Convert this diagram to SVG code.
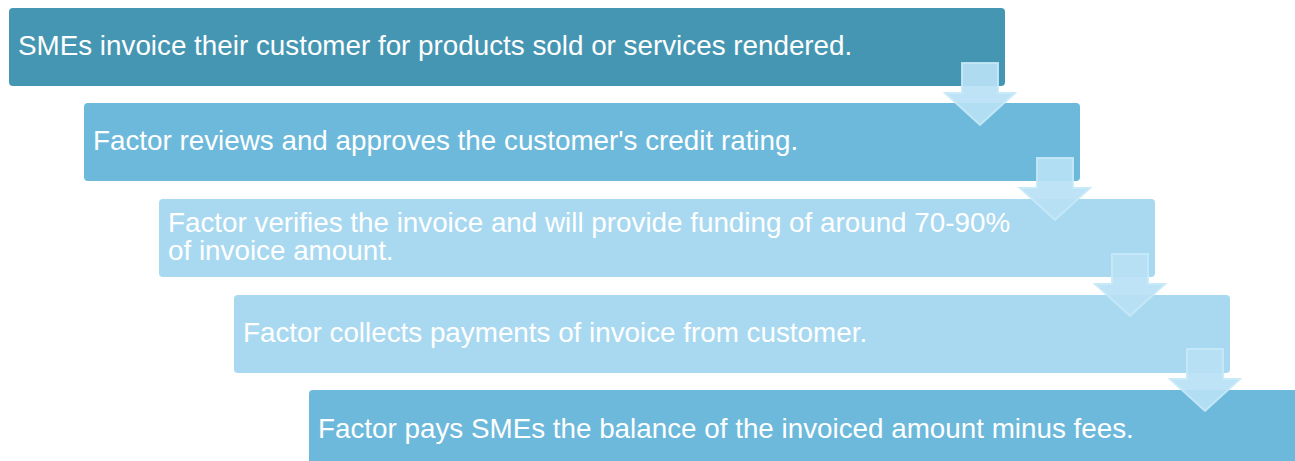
<svg xmlns="http://www.w3.org/2000/svg" width="1295" height="461" viewBox="0 0 1295 461">
<style>
.box{stroke:none}
.t{font-family:"Liberation Sans",Arial,sans-serif;font-size:27.8px;fill:#ffffff}
.arrow{fill:#b8e1f5;fill-opacity:0.92;stroke:#c6e9f8;stroke-width:2;stroke-opacity:0.9}
</style>
<rect width="1295" height="461" fill="#ffffff"/>
<g id="node1"><rect class="box" x="9" y="8" width="996" height="78" rx="4" fill="#4596b3"/><text class="t" x="18" y="55">SMEs invoice their customer for products sold or services rendered.</text></g>
<g id="node2"><rect class="box" x="84" y="103" width="996" height="78" rx="4" fill="#6db9db"/><text class="t" x="93" y="150">Factor reviews and approves the customer's credit rating.</text></g>
<g id="node3"><rect class="box" x="159" y="199" width="996" height="78" rx="4" fill="#a9d9f0"/><text class="t" x="168" y="232">Factor verifies the invoice and will provide funding of around 70-90%</text><text class="t" x="168" y="260">of invoice amount.</text></g>
<g id="node4"><rect class="box" x="234" y="295" width="996" height="78" rx="4" fill="#a9d9f0"/><text class="t" x="243" y="342">Factor collects payments of invoice from customer.</text></g>
<g id="node5"><rect class="box" x="309" y="390" width="996" height="78" rx="4" fill="#6db9db"/><text class="t" x="318" y="438">Factor pays SMEs the balance of the invoiced amount minus fees.</text></g>
<g id="connectors">
<path class="arrow" d="M962,63 H998 V93 H1015 L980,125 L945,93 H962 Z"/>
<path class="arrow" d="M1037,158 H1073 V188 H1090 L1055,220 L1020,188 H1037 Z"/>
<path class="arrow" d="M1112,254 H1148 V284 H1165 L1130,316 L1095,284 H1112 Z"/>
<path class="arrow" d="M1187,349 H1223 V379 H1240 L1205,411 L1170,379 H1187 Z"/>
</g>
</svg>
